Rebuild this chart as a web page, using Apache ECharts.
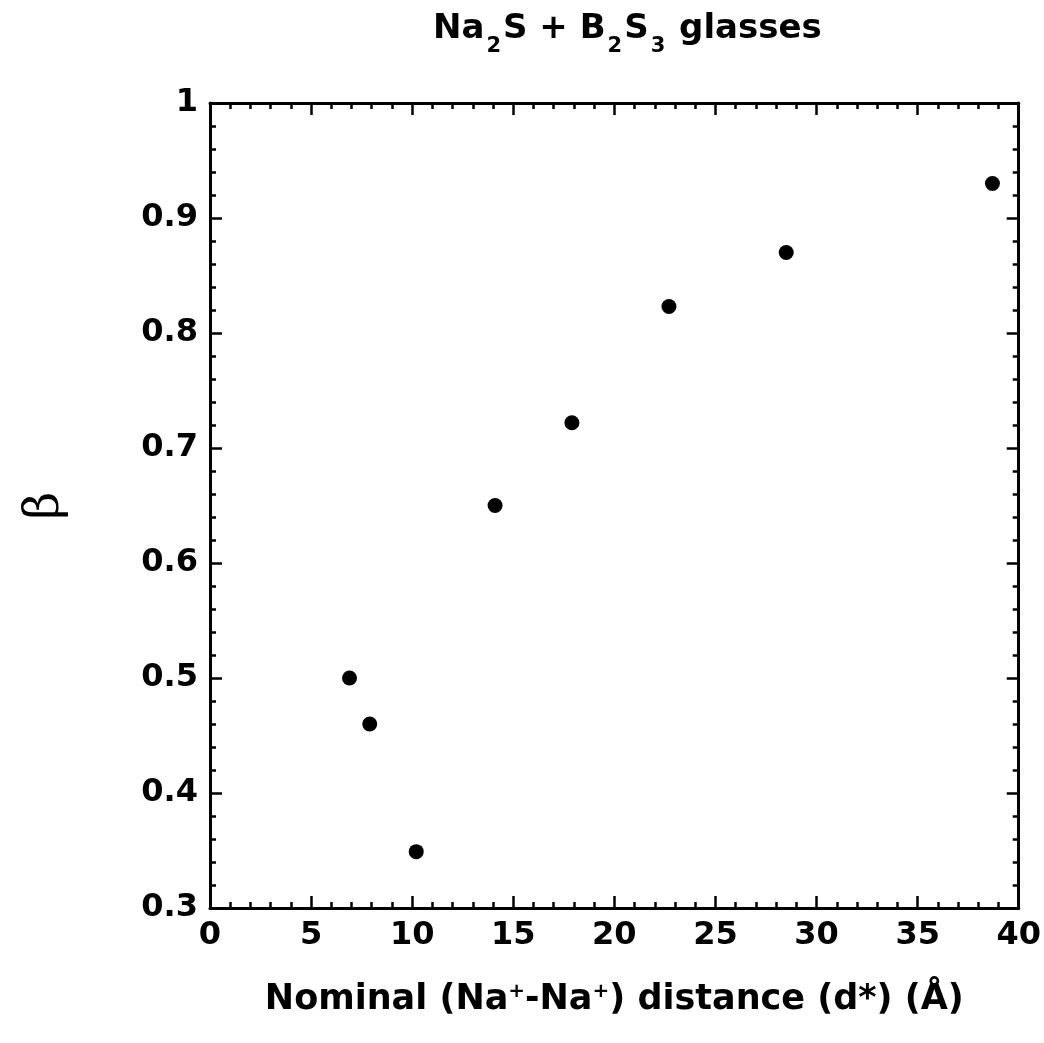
<!DOCTYPE html>
<html>
<head>
<meta charset="utf-8">
<script src="https://cdn.jsdelivr.net/npm/echarts@6/dist/echarts.min.js"></script>
<style>
  html, body { margin: 0; padding: 0; background: #fff; }
  #chart { width: 1044px; height: 1043px; }
</style>
</head>
<body>
<div id="chart"></div>
<script>
// Nominal Na+-Na+ separation d* (Å) and stretching exponent β
const distance = [6.9, 7.9, 10.2, 14.1, 17.9, 22.7, 28.5, 38.7];
const beta = [0.50, 0.46, 0.349, 0.650, 0.722, 0.823, 0.870, 0.930];

const xTicks = [0, 5, 10, 15, 20, 25, 30, 35, 40];
const yTicks = [0.3, 0.4, 0.5, 0.6, 0.7, 0.8, 0.9, 1];

const FONT = 'DejaVu Sans';
const INK = '#000';

const points = distance.map((d, i) => [d, beta[i]]);

const chart = echarts.init(document.getElementById('chart'), null, { renderer: 'canvas' });

function frameAxis(extra) {
  return Object.assign({
    axisLine: { onZero: false, lineStyle: { color: INK, width: 3 } },
    axisTick: { inside: true, length: 12, lineStyle: { color: INK, width: 2.5 } },
    minorTick: { show: true, splitNumber: 5, length: 6, lineStyle: { color: INK, width: 2.5 } },
    splitLine: { show: false },
    minorSplitLine: { show: false }
  }, extra);
}

chart.setOption({
  backgroundColor: '#fff',
  animation: false,
  title: {
    text: '{b|Na}{s|2}{b|S + B}{s|2}{b|S}{s|3}{b| glasses}',
    left: 428,
    top: 4,
    textStyle: {
      rich: {
        b: { fontFamily: FONT, fontWeight: 'bold', fontSize: 34, color: INK, lineHeight: 40 },
        s: { fontFamily: FONT, fontWeight: 'bold', fontSize: 21, color: INK, padding: [36, 2, 0, 2], lineHeight: 40 }
      }
    }
  },
  grid: { left: 210, right: 24, top: 103, bottom: 135 },
  xAxis: [
    frameAxis({
      type: 'value', min: 0, max: 40, interval: 5, position: 'bottom',
      axisLabel: {
        margin: 12, color: INK, fontFamily: FONT, fontWeight: 'bold', fontSize: 32,
        formatter: v => xTicks.includes(v) ? String(v) : ''
      },
      name: '{b|Nominal (Na}{p|+}{b|-Na}{p|+}{b|) distance (d*) (Å)}',
      nameLocation: 'middle',
      nameGap: 72,
      nameTextStyle: {
        rich: {
          b: { fontFamily: FONT, fontWeight: 'bold', fontSize: 35, color: INK, lineHeight: 40 },
          p: { fontFamily: FONT, fontWeight: 'bold', fontSize: 20, color: INK, padding: [0, 0, 16, 0], lineHeight: 40 }
        }
      }
    }),
    frameAxis({
      type: 'value', min: 0, max: 40, interval: 5, position: 'top',
      axisLabel: { show: false }
    })
  ],
  yAxis: [
    frameAxis({
      type: 'value', min: 0.3, max: 1, interval: 0.1, position: 'left',
      axisLabel: {
        margin: 12, color: INK, fontFamily: FONT, fontWeight: 'bold', fontSize: 32,
        formatter: v => {
          const r = Math.round(v * 10) / 10;
          return yTicks.includes(r) ? (r === 1 ? '1' : r.toFixed(1)) : '';
        }
      },
      name: 'β',
      nameLocation: 'middle',
      nameRotate: 90,
      nameGap: 140,
      nameTextStyle: { fontFamily: 'DejaVu Serif', fontSize: 48, color: INK }
    }),
    frameAxis({
      type: 'value', min: 0.3, max: 1, interval: 0.1, position: 'right',
      axisLabel: { show: false }
    })
  ],
  series: [{
    type: 'scatter',
    data: points,
    symbol: 'circle',
    symbolSize: 15,
    itemStyle: { color: INK, opacity: 1 },
    xAxisIndex: 0,
    yAxisIndex: 0
  }]
});
</script>
</body>
</html>
